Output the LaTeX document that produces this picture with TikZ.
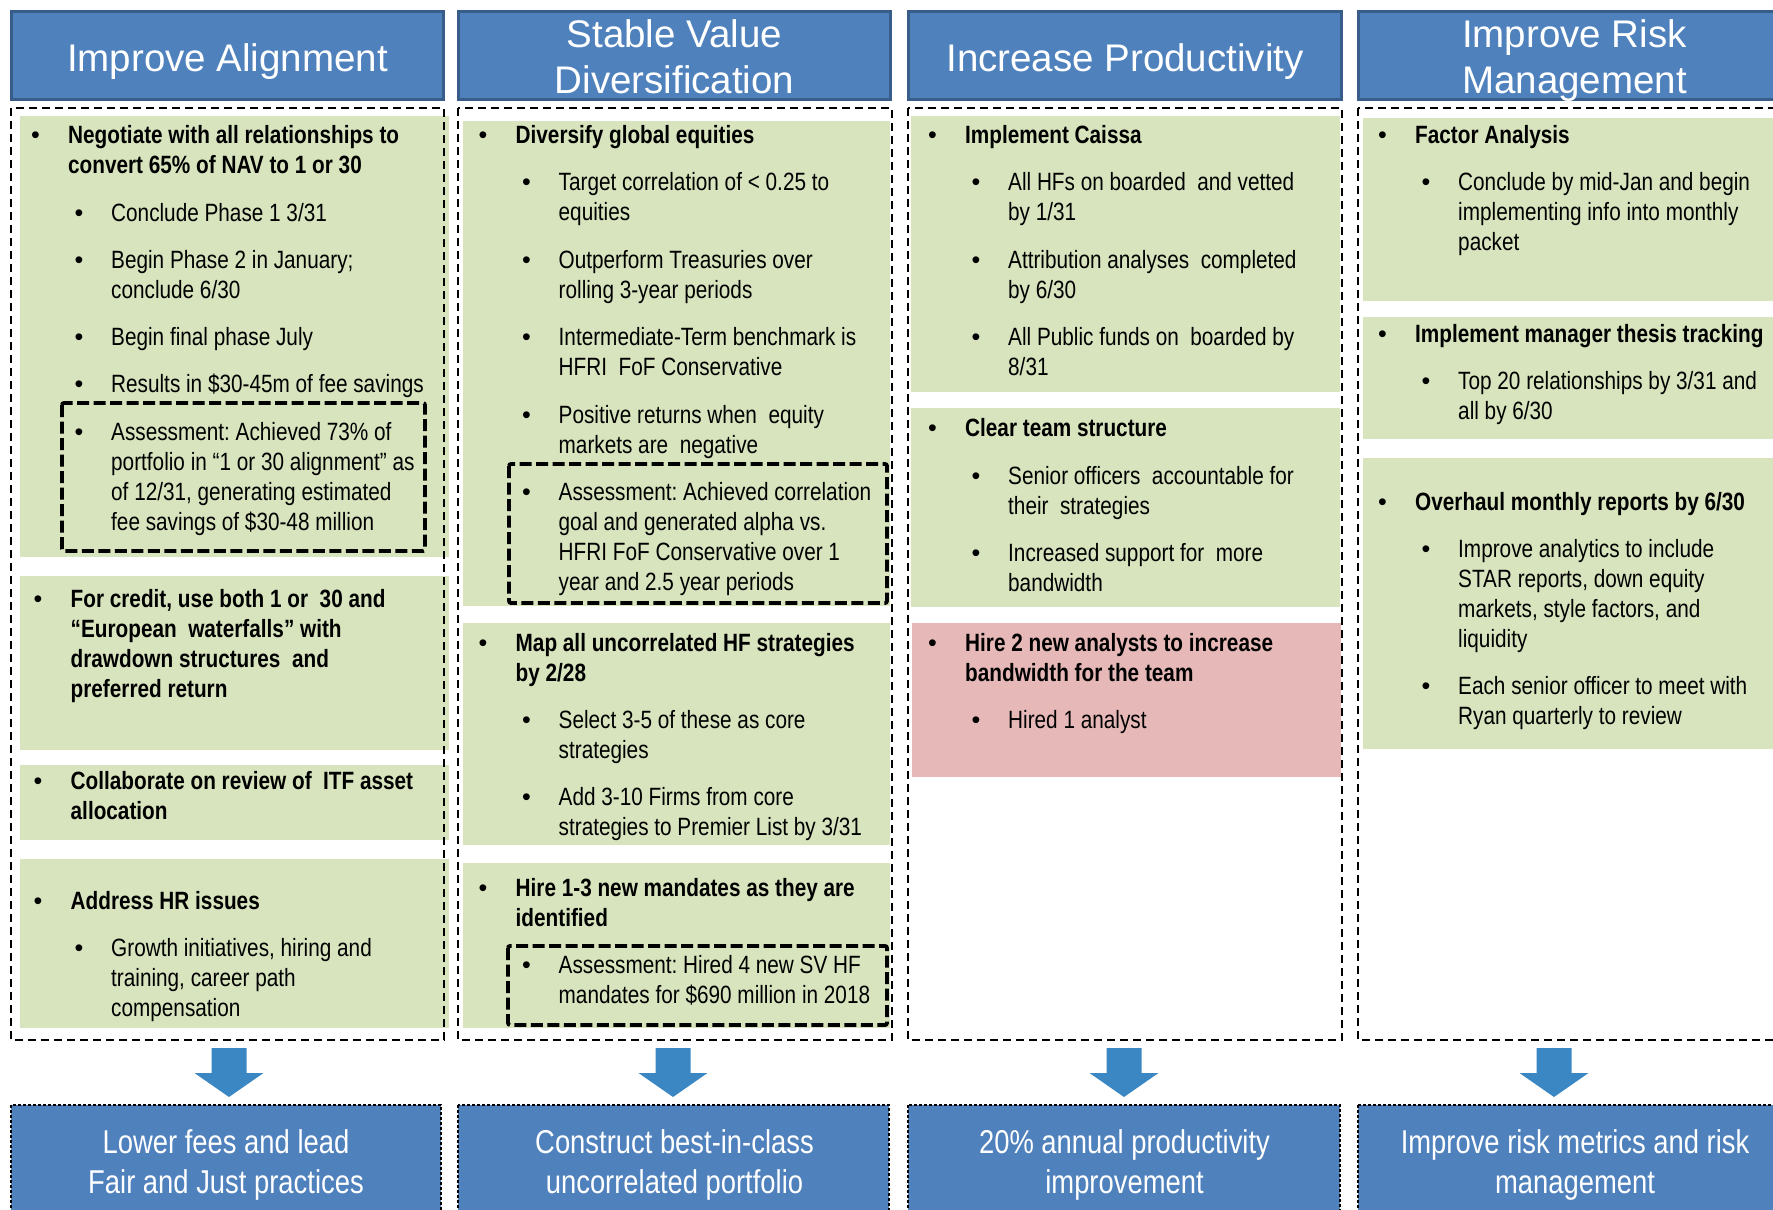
\documentclass[tikz,border=0pt]{standalone}
\usepackage{fontspec}
\setmainfont{Liberation Sans}
\newfontfamily\narrow[FakeStretch=0.83]{Liberation Sans}
\frenchspacing
\usetikzlibrary{calc}
\definecolor{hdrblue}{HTML}{4F81BD}
\definecolor{hdredge}{HTML}{385D8A}
\definecolor{greenbg}{HTML}{D7E4BD}
\definecolor{pinkbg}{HTML}{E6B9B8}
\definecolor{arrowblue}{HTML}{3A87C3}
\tikzset{
  hdrbox/.style={fill=hdrblue, draw=hdredge, line width=3pt},
  hdrtext/.style={text=white, font=\fontsize{38.5}{46}\selectfont, anchor=base, inner sep=0pt},
  outerbox/.style={draw=black, line width=1.8pt, dash pattern=on 8pt off 5pt},
  greenbox/.style={fill=greenbg},
  pinkbox/.style={fill=pinkbg},
  assessbox/.style={draw=black, line width=3.8pt, dash pattern=on 12pt off 4.5pt, rounded corners=2pt},
  resbox/.style={fill=hdrblue, draw=black, line width=1.3pt, dash pattern=on 3pt off 2pt},
  restext/.style={text=white, font=\narrow\fontsize{33}{40}\selectfont, anchor=base, inner sep=0pt},
  bodyn/.style={font=\narrow\fontsize{25}{30}\selectfont, anchor=base west, inner sep=0pt},
  bodyb/.style={font=\narrow\bfseries\fontsize{25}{30}\selectfont, anchor=base west, inner sep=0pt},
  bul/.style={font=\fontsize{25}{30}\selectfont, anchor=base, inner sep=0pt},
  blockarrow/.style={fill=arrowblue},
}
% #1 name, #2 style, #3 bullet x, #4 text x, #5 first baseline, #6 lines
\newcommand\itm[6]{%
  \node[bul] (#1b) at ({#3},{#5}) {\textbullet};
  \foreach \mytxt [count=\myi] in {#6} {
    \node[#2] (#1l\myi) at ({#4},{#5+(\myi-1)*30}) {\mytxt};
  }
}
\newcommand\itmA[4]{\itm{#1}{bodyb}{35.5+#2}{68+#2}{#3}{#4}}
\newcommand\itmB[4]{\itm{#1}{bodyn}{79+#2}{111+#2}{#3}{#4}}
\newcommand\blockarr[2]{% name, center x
  \fill[blockarrow] ({#2-17.5},1048) -- ({#2+17.5},1048) -- ({#2+17.5},1073) -- ({#2+34.5},1073)
    -- (#2,1097) -- ({#2-34.5},1073) -- ({#2-17.5},1073) -- cycle;
  \coordinate (#1) at (#2,1097);
}
\begin{document}
\begin{tikzpicture}[x=1pt,y=-1pt]
\useasboundingbox (0,0) rectangle (1773,1210);
\clip (0,0) rectangle (1773,1210);

% ---------- headers ----------
\draw[hdrbox] (11.5,11.5) rectangle (443.5,99.5);
\draw[hdrbox] (458.5,11.5) rectangle (890.5,99.5);
\draw[hdrbox] (908.5,11.5) rectangle (1341.5,99.5);
\draw[hdrbox] (1358.5,11.5) rectangle (1790.5,99.5);
\node[hdrtext] (h1) at (227.5,71) {Improve Alignment};
\node[hdrtext] (h2a) at (674.5,47) {Stable Value};
\node[hdrtext] (h2b) at (674.5,93) {Diversification};
\node[hdrtext] (h3) at (1125,71) {Increase Productivity};
\node[hdrtext] (h4a) at (1574.5,47) {Improve Risk};
\node[hdrtext] (h4b) at (1574.5,93) {Management};

% ---------- green / pink panels ----------
\fill[greenbox] (20,116) rectangle (449,557);
\fill[greenbox] (20,576) rectangle (449,750);
\fill[greenbox] (20,765) rectangle (449,840);
\fill[greenbox] (20,859) rectangle (449,1028);

\fill[greenbox] (463,121) rectangle (890,606);
\fill[greenbox] (463,623) rectangle (890,845);
\fill[greenbox] (463,863) rectangle (890,1028);

\fill[greenbox] (911,116) rectangle (1340,392);
\fill[greenbox] (911,408) rectangle (1340,607);
\fill[pinkbox]  (912,623) rectangle (1341,777);

\fill[greenbox] (1363,118) rectangle (1790,301);
\fill[greenbox] (1363,317) rectangle (1790,439);
\fill[greenbox] (1363,458) rectangle (1790,749);

% ---------- outer dashed frames ----------
\draw[outerbox] (11,108) rectangle (444,1040);
\draw[outerbox] (458,108) rectangle (892,1040);
\draw[outerbox] (908,108) rectangle (1342,1040);
\draw[outerbox] (1358,108) rectangle (1792,1040);

% ---------- assessment frames ----------
\draw[assessbox] (62,403) rectangle (425,551);
\draw[assessbox] (509,464) rectangle (887,603);
\draw[assessbox] (508,946) rectangle (887,1025);

% ---------- column 1 ----------
\itmA{a1}{0}{143.5}{Negotiate with all relationships to, convert 65\% of NAV to 1 or 30}
\itmB{a2}{0}{221}{Conclude Phase 1 3/31}
\itmB{a3}{0}{268}{Begin Phase 2 in January;, conclude 6/30}
\itmB{a4}{0}{345}{Begin final phase July}
\itmB{a5}{0}{392}{Results in \$30-45m of fee savings}
\itmB{a6}{0}{440}{Assessment: Achieved 73\% of, portfolio in “1 or 30 alignment” as, {of 12/31, generating estimated}, fee savings of \$30-48 million}
\itmA{a7}{2.5}{607}{{For credit, use both 1 or~~30 and}, “European~~waterfalls” with, drawdown structures~~and, preferred return}
\itmA{a8}{2.5}{789}{Collaborate on review of~~ITF asset, allocation}
\itmA{a9}{2.5}{909}{Address HR issues}
\itmB{a10}{0}{956.5}{{Growth initiatives, hiring and}, {training, career path}, compensation}

% ---------- column 2 ----------
\itmA{b1}{447.5}{143.5}{Diversify global equities}
\itmB{b2}{447.5}{190}{Target correlation of < 0.25 to, equities}
\itmB{b3}{447.5}{268}{Outperform Treasuries over, rolling 3-year periods}
\itmB{b4}{447.5}{345}{Intermediate-Term benchmark is, HFRI~~FoF Conservative}
\itmB{b5}{447.5}{423}{Positive returns when~~equity, markets are~~negative}
\itmB{b6}{447.5}{500}{Assessment: Achieved correlation, goal and generated alpha vs., HFRI FoF Conservative over 1, year and 2.5 year periods}
\itmA{b7}{447.5}{651}{Map all uncorrelated HF strategies, by 2/28}
\itmB{b8}{447.5}{728}{Select 3-5 of these as core, strategies}
\itmB{b9}{447.5}{805}{Add 3-10 Firms from core, strategies to Premier List by 3/31}
\itmA{b10}{447.5}{896.5}{Hire 1-3 new mandates as they are, identified}
\itmB{b11}{447.5}{973.5}{Assessment: Hired 4 new SV HF, mandates for \$690 million in 2018}

% ---------- column 3 ----------
\itmA{c1}{897}{143.5}{Implement Caissa}
\itmB{c2}{897}{190}{All HFs on boarded~~and vetted, by 1/31}
\itmB{c3}{897}{268}{Attribution analyses~~completed, by 6/30}
\itmB{c4}{897}{345}{All Public funds on~~boarded by, 8/31}
\itmA{c5}{897}{436}{Clear team structure}
\itmB{c6}{897}{484}{Senior officers~~accountable for, their~~strategies}
\itmB{c7}{897}{561}{Increased support for~~more, bandwidth}
\itmA{c8}{897}{651}{Hire 2 new analysts to increase, bandwidth for the team}
\itmB{c9}{897}{728}{Hired 1 analyst}

% ---------- column 4 ----------
\itmA{d1}{1347}{143.5}{Factor Analysis}
\itmB{d2}{1347}{190}{Conclude by mid-Jan and begin, implementing info into monthly, packet}
\itmA{d3}{1347}{342.5}{Implement manager thesis tracking}
\itmB{d4}{1347}{389}{Top 20 relationships by 3/31 and, all by 6/30}
\itmA{d5}{1347}{510}{Overhaul monthly reports by 6/30}
\itmB{d6}{1347}{557}{Improve analytics to include, {STAR reports, down equity}, {markets, style factors, and}, liquidity}
\itmB{d7}{1347}{694}{Each senior officer to meet with, Ryan quarterly to review}

% ---------- arrows ----------
\blockarr{t1}{229}
\blockarr{t2}{673}
\blockarr{t3}{1124}
\blockarr{t4}{1554}

% ---------- result boxes ----------
\draw[resbox] (11,1105) rectangle (441,1240);
\draw[resbox] (458,1105) rectangle (889,1240);
\draw[resbox] (908,1105) rectangle (1340,1240);
\draw[resbox] (1358,1105) rectangle (1792,1240);
\node[restext] (r1a) at (226,1153) {Lower fees and lead};
\node[restext] (r1b) at (226,1193) {Fair and Just practices};
\node[restext] (r2a) at (674.5,1153) {Construct best-in-class};
\node[restext] (r2b) at (674.5,1193) {uncorrelated portfolio};
\node[restext] (r3a) at (1124.5,1153) {20\% annual productivity};
\node[restext] (r3b) at (1124.5,1193) {improvement};
\node[restext] (r4a) at (1575,1153) {Improve risk metrics and risk};
\node[restext] (r4b) at (1575,1193) {management};
\end{tikzpicture}
\end{document}
